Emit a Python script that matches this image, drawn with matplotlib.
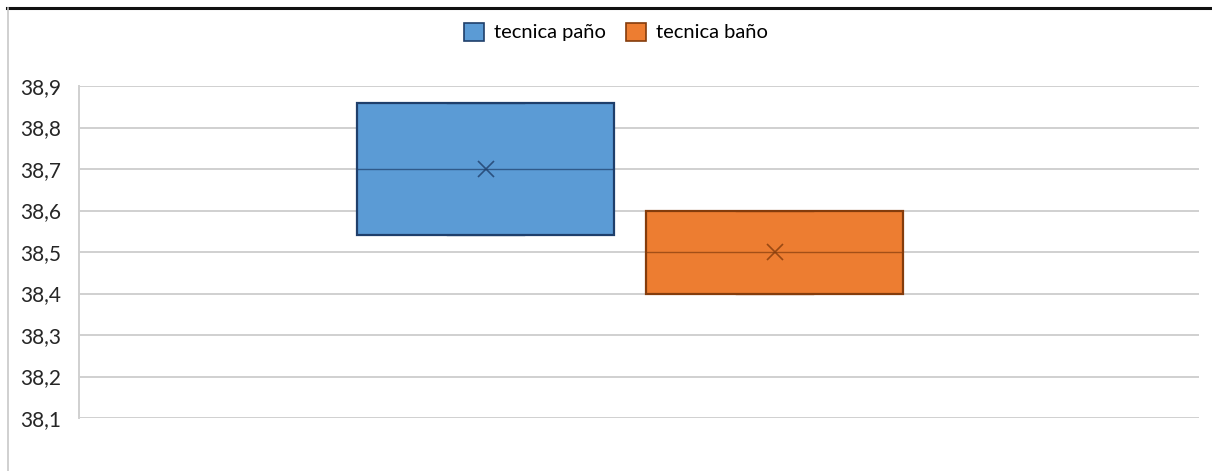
import matplotlib.pyplot as plt
from matplotlib.patches import Patch
from matplotlib.lines import Line2D

series = ["tecnica paño", "tecnica baño"]
q1 = [38.54, 38.40]
q3 = [38.86, 38.60]
medians = [38.70, 38.50]
means = [38.70, 38.50]
whis_lo = [38.54, 38.40]
whis_hi = [38.86, 38.60]
yticks = [38.1, 38.2, 38.3, 38.4, 38.5, 38.6, 38.7, 38.8, 38.9]

face_colors = ["#5B9BD5", "#ED7D31"]
edge_colors = ["#1F3F6B", "#843C0C"]

plt.rcParams['font.family'] = ['Lato', 'DejaVu Sans']

fig = plt.figure(figsize=(12.12, 4.71), dpi=100)
ax = fig.add_axes([79 / 1212, 1 - 418 / 471, 1120 / 1212, 332 / 471])

positions = [0.363, 0.621]
for i in range(len(series)):
    stats = [{
        'med': medians[i], 'q1': q1[i], 'q3': q3[i],
        'whislo': whis_lo[i], 'whishi': whis_hi[i], 'mean': means[i],
        'fliers': [],
    }]
    ax.bxp(stats, positions=[positions[i]], widths=0.23, capwidths=0.068,
           patch_artist=True, showmeans=True, manage_ticks=False,
           boxprops=dict(facecolor=face_colors[i], edgecolor=edge_colors[i], linewidth=1.6),
           medianprops=dict(color=edge_colors[i], linewidth=1.0, alpha=0.7),
           whiskerprops=dict(color=edge_colors[i], linewidth=1.0),
           capprops=dict(color=edge_colors[i], linewidth=1.0, alpha=0.6),
           meanprops=dict(marker='x', markersize=11, markeredgecolor=edge_colors[i],
                          markeredgewidth=1.2, alpha=0.8))

ax.set_xlim(0, 1)
ax.set_ylim(38.1, 38.9)
ax.set_yticks(yticks)
ax.set_yticklabels([f"{v:.1f}".replace('.', ',') for v in yticks], fontsize=15, color='#262626')
ax.set_xticks([])
ax.yaxis.grid(True, color='#D0D0D0', linewidth=1.4)
ax.set_axisbelow(True)
ax.tick_params(axis='y', length=0, pad=13)
for side in ['top', 'right', 'bottom']:
    ax.spines[side].set_visible(False)
ax.spines['left'].set_color('#D0D0D0')
ax.spines['left'].set_linewidth(1.4)

handles = [Patch(facecolor=face_colors[i], edgecolor=edge_colors[i], linewidth=1.2)
           for i in range(len(series))]
fig.legend(handles, series, loc='center', bbox_to_anchor=(0.508, 0.932), ncol=2,
           frameon=False, fontsize=14.5, handlelength=1.0, handleheight=1.0,
           handletextpad=0.5, columnspacing=1.0)

# outer chart frame (top dark edge and left light edge)
fig.add_artist(Line2D([7 / 1212, 1], [1 - 8 / 471, 1 - 8 / 471], color='#111111', linewidth=2.2))
fig.add_artist(Line2D([8 / 1212, 8 / 1212], [0, 1 - 8 / 471], color='#C8C8C8', linewidth=1.2))

fig.savefig('out.png', dpi=100)
